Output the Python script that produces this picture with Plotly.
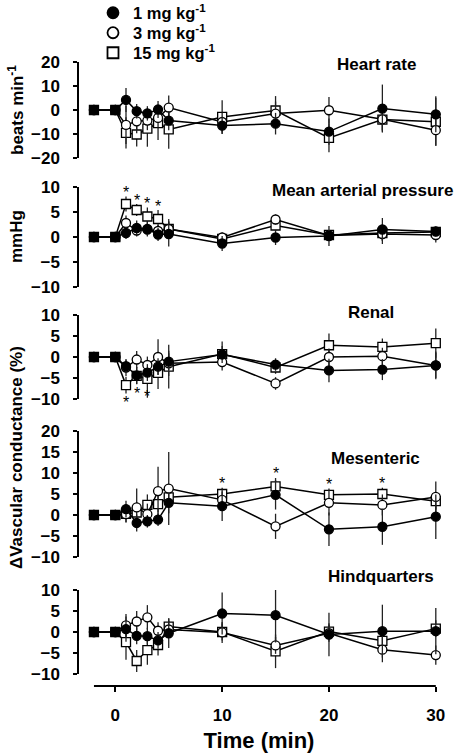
import plotly.graph_objects as go

# ---------------- data ----------------
time = [-2, 0, 1, 2, 3, 4, 5, 10, 15, 20, 25, 30]
series_names = ["1 mg kg<sup>-1</sup>", "3 mg kg<sup>-1</sup>", "15 mg kg<sup>-1</sup>"]

hr_1 = [0, 0, 4.2, -0.5, -1.4, 0.2, -4.4, -6.5, -5.7, -9.0, 0.6, -1.8]
hr_3 = [0, 0, -6.2, -4.7, -4.4, -3.3, 1.0, -5.0, -1.5, -0.1, -3.9, -8.4]
hr_15 = [0, 0, -9.5, -10.2, -7.8, -5.5, -8.1, -2.9, -0.2, -11.6, -4.0, -4.9]
hr_1_err = [0, 0, 5.0, 3.0, 3.0, 3.5, 4.0, 3.5, 4.5, 5.5, 10.0, 7.5]
hr_3_err = [0, 0, 8.0, 5.0, 4.0, 4.0, 5.0, 4.0, 5.0, 5.5, 4.5, 6.5]
hr_15_err = [0, 0, 6.5, 5.0, 7.5, 7.0, 8.0, 7.0, 6.0, 6.0, 5.0, 10.0]

map_1 = [0, 0, 0.8, 1.8, 1.6, 0.5, 0.6, -1.3, -0.1, 0.2, 1.5, 1.1]
map_3 = [0, 0, 2.8, 1.3, 1.5, 1.2, 1.6, -0.1, 3.5, 0.3, 0.6, 0.4]
map_15 = [0, 0, 6.6, 5.4, 4.1, 3.6, 1.6, -0.4, 2.3, 0.4, 0.8, 1.0]
map_1_err = [0, 0, 1.2, 1.5, 1.5, 1.3, 2.5, 1.5, 1.5, 2.0, 2.3, 1.0]
map_3_err = [0, 0, 1.5, 1.2, 1.2, 1.2, 1.5, 1.0, 1.0, 1.0, 2.0, 1.5]
map_15_err = [0, 0, 1.5, 1.2, 1.8, 1.8, 2.0, 1.0, 1.0, 1.0, 1.5, 1.0]

ren_1 = [0, 0, -2.2, -4.4, -3.7, -2.3, -1.1, 0.6, -1.8, -3.2, -3.0, -2.0]
ren_3 = [0, 0, -2.5, -0.6, -1.9, 0.0, -1.5, -1.2, -6.3, 0.0, 0.2, -2.0]
ren_15 = [0, 0, -6.7, -4.5, -5.2, -3.8, -2.3, 0.7, -2.5, 2.8, 2.4, 3.3]
ren_1_err = [0, 0, 1.5, 2.0, 2.0, 2.0, 2.0, 2.0, 1.5, 2.8, 2.5, 3.3]
ren_3_err = [0, 0, 2.0, 2.0, 2.0, 4.2, 3.0, 2.0, 1.5, 2.0, 2.0, 3.0]
ren_15_err = [0, 0, 2.0, 2.0, 4.5, 3.8, 5.2, 3.0, 1.5, 2.8, 2.0, 3.5]

mes_1 = [0, 0, 1.4, -1.9, -1.5, -1.1, 2.9, 2.1, 4.8, -3.4, -2.8, -0.4]
mes_3 = [0, 0, 0.2, 1.8, 0.2, 5.7, 6.3, 3.6, -2.7, 2.9, 2.4, 4.3]
mes_15 = [0, 0, 0.3, 0.6, 2.4, 2.6, 4.2, 5.0, 6.8, 4.8, 5.0, 3.3]
mes_1_err = [0, 0, 2.0, 2.0, 1.5, 1.5, 2.5, 3.5, 3.5, 4.0, 4.3, 5.3]
mes_3_err = [0, 0, 2.0, 4.5, 2.5, 5.8, 8.7, 2.5, 3.0, 3.0, 2.5, 3.7]
mes_15_err = [0, 0, 2.0, 2.5, 2.5, 2.0, 2.0, 1.5, 2.0, 1.5, 1.5, 2.0]

hq_1 = [0, 0, 0.7, -0.9, -1.0, -2.0, -0.3, 4.4, 4.0, -0.6, 0.2, 0.2]
hq_3 = [0, 0, 1.6, 2.5, 3.5, 0.3, 0.6, -0.1, -3.2, -0.3, -4.2, -5.5]
hq_15 = [0, 0, -2.4, -6.9, -4.3, -3.1, 1.3, 0.0, -4.6, 0.1, -2.1, 0.8]
hq_1_err = [0, 0, 3.0, 2.0, 2.0, 2.0, 3.5, 5.0, 6.5, 5.2, 6.3, 5.5]
hq_3_err = [0, 0, 2.7, 2.5, 2.9, 2.0, 2.0, 2.5, 2.0, 2.0, 3.0, 2.3]
hq_15_err = [0, 0, 4.2, 2.6, 3.5, 2.5, 2.0, 2.0, 4.0, 2.0, 2.0, 2.0]

panel_titles = ["Heart rate", "Mean arterial pressure", "Renal", "Mesenteric", "Hindquarters"]
panel_ranges = [[-20, 20], [-10, 10], [-10, 10], [-10, 20], [-10, 10]]
panel_dticks = [10, 5, 5, 5, 5]
x_ticks = [0, 10, 20, 30]

# significance markers (time points)
map_sig = [1, 2, 3, 4]
ren_sig = [1, 2, 3]
mes_sig = [10, 15, 20, 25]

# ---------------- layout helpers ----------------
W, H = 466, 756
L, R = 79, 27


def py(p):
    return 1 - p / H


def pxp(p):
    return (p - L) / (W - L - R)


panel_px = [(62, 158), (187, 287), (315, 399), (431, 557), (590, 674)]
title_px = [(376, 65), (362, 190), (371, 312), (375, 459), (381, 576)]
legend_rows_px = [13, 33, 53]

panels = [
    (hr_1, hr_3, hr_15, hr_1_err, hr_3_err, hr_15_err),
    (map_1, map_3, map_15, map_1_err, map_3_err, map_15_err),
    (ren_1, ren_3, ren_15, ren_1_err, ren_3_err, ren_15_err),
    (mes_1, mes_3, mes_15, mes_1_err, mes_3_err, mes_15_err),
    (hq_1, hq_3, hq_15, hq_1_err, hq_3_err, hq_15_err),
]

styles = [
    dict(symbol="circle", color="black", size=9),
    dict(symbol="circle", color="white", size=9),
    dict(symbol="square", color="white", size=9),
]

FONT = "Liberation Sans, Arial, sans-serif"
fig = go.Figure()

for i, p in enumerate(panels):
    yname = "y" if i == 0 else f"y{i + 1}"
    vals, errs = p[:3], p[3:]
    for k in [2, 1, 0]:
        st = styles[k]
        fig.add_trace(go.Scatter(
            x=time, y=vals[k], yaxis=yname, xaxis="x",
            mode="lines+markers", showlegend=False, cliponaxis=False,
            line=dict(color="black", width=1.5),
            marker=dict(symbol=st["symbol"], size=st["size"], color=st["color"],
                        line=dict(color="black", width=1.3)),
            error_y=dict(type="data", array=errs[k], visible=True,
                         color="#222", thickness=1.3, width=0),
        ))
    # baseline (pre-dose) points shown as filled squares
    fig.add_trace(go.Scatter(
        x=time[:2], y=vals[0][:2], yaxis=yname, xaxis="x",
        mode="markers", showlegend=False, cliponaxis=False,
        marker=dict(symbol="square", size=9, color="black",
                    line=dict(color="black", width=1)),
    ))

# legend entries: one legend box per dose so the row spacing can be matched
legend_ids = ["legend", "legend2", "legend3"]
for k in range(3):
    st = styles[k]
    fig.add_trace(go.Scatter(
        x=[None], y=[None], mode="markers", name=series_names[k],
        legend=legend_ids[k],
        marker=dict(symbol=st["symbol"], size=11, color=st["color"],
                    line=dict(color="black", width=1.8)),
    ))

layout = dict(
    template="none",
    width=W, height=H,
    margin=dict(l=L, r=R, t=0, b=0, autoexpand=False),
    paper_bgcolor="white", plot_bgcolor="white",
    font=dict(family=FONT, color="black", size=15),
    showlegend=True,
    xaxis=dict(range=[-3.4, 30.3], anchor="free", position=py(686),
               showline=False, showgrid=False, zeroline=False,
               tickvals=x_ticks, ticks="outside", ticklen=5, tickwidth=1.5,
               tickcolor="black", ticklabelstandoff=9,
               tickfont=dict(family=FONT, size=17, weight="bold", color="black"),
               title=dict(text="Time (min)", standoff=8,
                          font=dict(family=FONT, size=22, weight="bold", color="black"))),
)
for k, lid in enumerate(legend_ids):
    layout[lid] = dict(x=(93 / W), y=py(legend_rows_px[k]), xref="container", yref="container",
                       xanchor="left", yanchor="middle",
                       bgcolor="rgba(0,0,0,0)", borderwidth=0,
                       font=dict(family=FONT, size=16.5, weight="bold", color="black"),
                       itemwidth=30)
for i in range(5):
    key = "yaxis" if i == 0 else f"yaxis{i + 1}"
    top, bot = panel_px[i]
    lo, hi = panel_ranges[i]
    layout[key] = dict(
        domain=[py(bot), py(top)], range=[lo, hi], anchor="x",
        tick0=lo, dtick=panel_dticks[i],
        showline=True, linecolor="black", linewidth=1.5,
        showgrid=False, zeroline=False,
        ticks="outside", ticklen=4, tickwidth=1.5, tickcolor="black",
        ticklabelstandoff=10,
        tickfont=dict(family=FONT, size=17, weight="bold", color="black"),
    )
fig.update_layout(**layout)

# x axis line from first to last time point
fig.add_shape(type="line", xref="x", yref="paper", x0=time[0], x1=time[-1],
              y0=py(686), y1=py(686), line=dict(color="black", width=1.8))

ann = []
for i, t in enumerate(panel_titles):
    tx, ty = title_px[i]
    ann.append(dict(text=f"<b>{t}</b>", x=pxp(tx), y=py(ty), xref="paper", yref="paper",
                    showarrow=False, xanchor="center", yanchor="middle",
                    font=dict(family=FONT, size=17, color="black")))

ytitles = [("beats min<sup>-1</sup>", 110), ("mmHg", 237), ("\u0394Vascular conductance (%)", 458)]
for t, cy in ytitles:
    ann.append(dict(text=f"<b>{t}</b>", x=pxp(16), y=py(cy), xref="paper", yref="paper",
                    showarrow=False, textangle=-90, xanchor="center", yanchor="middle",
                    font=dict(family=FONT, size=17, color="black")))


def sig(times, vals, errs, yref, up, shift):
    for t in times:
        j = time.index(t)
        v = vals[j] + (errs[j] if up else -errs[j])
        ann.append(dict(text="*", x=t, y=v, xref="x", yref=yref, showarrow=False,
                        yanchor="bottom" if up else "top",
                        yshift=shift,
                        font=dict(family=FONT, size=16, color="black")))


sig(map_sig, map_15, map_15_err, "y2", True, -7)
sig(ren_sig, [min(a, b) for a, b in zip(ren_15, ren_1)], [0] * len(time), "y3", False, -7)
sig(mes_sig, mes_15, mes_15_err, "y4", True, -6)

fig.update_layout(annotations=ann)
# remove the default page margin so the figure fills the window exactly
fig.write_html("out.html", config={"displayModeBar": False},
               post_script="document.body.style.margin='0px';")
